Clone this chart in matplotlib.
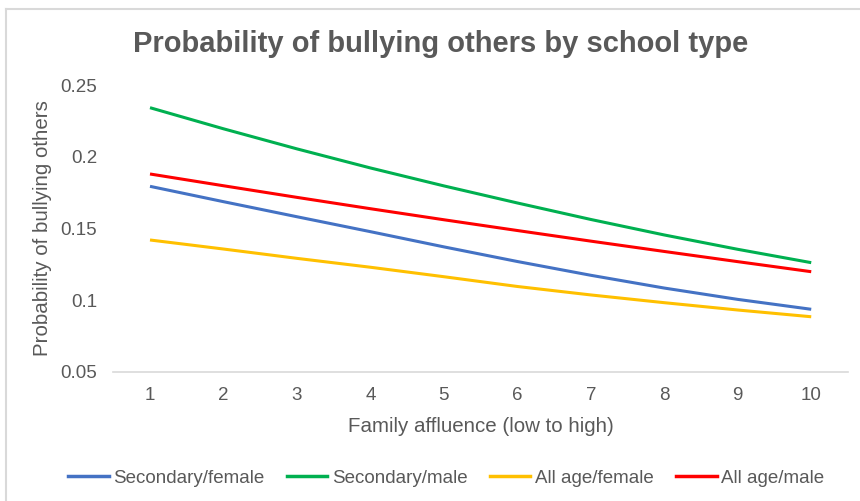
import matplotlib
matplotlib.use("Agg")
import matplotlib.pyplot as plt
from matplotlib.lines import Line2D

plt.rcParams['font.family'] = ['Liberation Sans', 'DejaVu Sans']

affluence = [1, 2, 3, 4, 5, 6, 7, 8, 9, 10]
secondary_female = [0.1794, 0.1687, 0.1582, 0.1478, 0.1372, 0.1270, 0.1174, 0.1085, 0.1006, 0.0937]
secondary_male = [0.2342, 0.2195, 0.2055, 0.1922, 0.1797, 0.1678, 0.1563, 0.1455, 0.1355, 0.1262]
allage_female = [0.1420, 0.1357, 0.1292, 0.1230, 0.1164, 0.1096, 0.1037, 0.0983, 0.0932, 0.0885]
allage_male = [0.1880, 0.1798, 0.1717, 0.1638, 0.1561, 0.1486, 0.1412, 0.1340, 0.1269, 0.1199]

series = [
    ("Secondary/female", secondary_female, "#4472C4"),
    ("Secondary/male", secondary_male, "#00B050"),
    ("All age/female", allage_female, "#FFC000"),
    ("All age/male", allage_male, "#FF0000"),
]

text_color = "#595959"

fig = plt.figure(figsize=(8.6, 5.01), dpi=100)
ax = fig.add_axes([0.1317, 0.2575, 0.8543, 0.5728])

for name, vals, col in series:
    ax.plot(affluence, vals, color=col, lw=2.2, label=name, solid_capstyle='butt')

ax.set_xlim(0.5, 10.5)
ax.set_ylim(0.05, 0.25)
ax.set_xticks(affluence)
ax.set_yticks([0.05, 0.1, 0.15, 0.2, 0.25])
ax.set_yticklabels(["0.05", "0.1", "0.15", "0.2", "0.25"])
ax.tick_params(axis='both', length=0, labelsize=13.5, colors=text_color)
ax.tick_params(axis='x', pad=11)
ax.tick_params(axis='y', pad=11.5)
for s in ("top", "right", "left"):
    ax.spines[s].set_visible(False)
ax.spines["bottom"].set_color("#D9D9D9")
ax.spines["bottom"].set_linewidth(1.2)

ax.set_xlabel("Family affluence (low to high)", fontsize=14.8, color=text_color, labelpad=9)
ax.set_ylabel("Probability of bullying others", fontsize=14.8, color=text_color, labelpad=6)

fig.text(0.5128, 0.912, "Probability of bullying others by school type",
         ha="center", va="center", fontsize=21, fontweight="bold", color=text_color)

handles = [Line2D([0], [0], color=c, lw=2.5) for _, _, c in series]
fig.legend(handles, [n for n, _, _ in series], loc="center", bbox_to_anchor=(0.519, 0.045),
           ncol=4, frameon=False, fontsize=13.5, labelcolor=text_color,
           handlelength=2.15, handletextpad=0.25, columnspacing=1.2)

# chart-area border
fig.add_artist(Line2D([6 / 860, 6 / 860], [0, 1 - 8.5 / 501], transform=fig.transFigure,
                      color="#D9D9D9", lw=1.5))
fig.add_artist(Line2D([6 / 860, 1], [1 - 8.5 / 501, 1 - 8.5 / 501], transform=fig.transFigure,
                      color="#D9D9D9", lw=1.5))

fig.savefig("out.png", dpi=100)
